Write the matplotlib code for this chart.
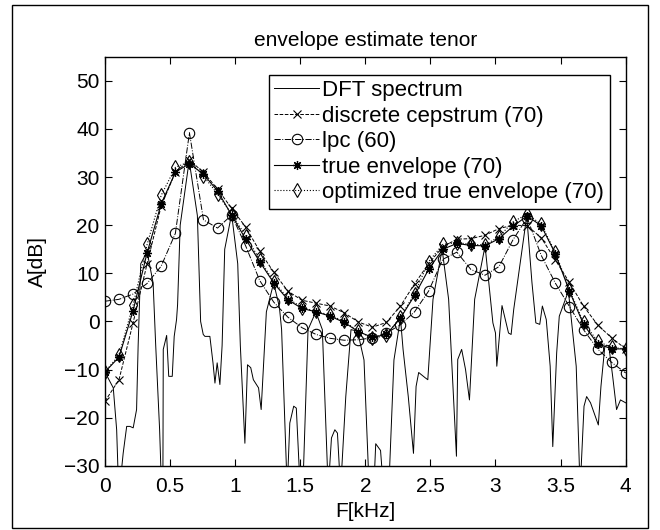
import matplotlib
matplotlib.use('Agg')
import matplotlib.pyplot as plt
from matplotlib.patches import Rectangle

plt.rcParams['font.family'] = ['Liberation Sans', 'DejaVu Sans']
plt.rcParams['font.size'] = 15

# DFT spectrum vertices (kHz, dB)
dft_freq = [0.0, 0.064, 0.09, 0.105, 0.123, 0.14, 0.167, 0.192, 0.217, 0.243,
            0.255, 0.275, 0.324, 0.37, 0.39, 0.42, 0.435, 0.445, 0.448, 0.474,
            0.49, 0.517, 0.532, 0.55, 0.558, 0.578, 0.647, 0.71, 0.735, 0.755,
            0.768, 0.806, 0.83, 0.845, 0.862, 0.883, 0.90, 0.92, 0.973, 1.02,
            1.04, 1.075, 1.095, 1.12, 1.14, 1.18, 1.2, 1.24, 1.296, 1.34,
            1.357, 1.40, 1.42, 1.45, 1.47, 1.50, 1.52, 1.56, 1.62, 1.67,
            1.715, 1.74, 1.766, 1.786, 1.81, 1.85, 1.89, 1.94, 1.99, 2.03,
            2.065, 2.08, 2.117, 2.14, 2.18, 2.22, 2.27, 2.29, 2.33, 2.37,
            2.39, 2.41, 2.46, 2.48, 2.52, 2.59, 2.64, 2.70, 2.71, 2.74,
            2.77, 2.80, 2.84, 2.92, 2.98, 3.0, 3.01, 3.03, 3.05, 3.10,
            3.12, 3.14, 3.24, 3.28, 3.31, 3.34, 3.36, 3.39, 3.42, 3.44,
            3.47, 3.49, 3.56, 3.62, 3.65, 3.68, 3.70, 3.73, 3.79, 3.81,
            3.84, 3.87, 3.90, 3.93, 3.96, 4.0]
dft_db = [-10.5, -13.8, -22.5, -35, -32, -27.4, -21.8, -21.8, -22.1, -18.3,
          -5, 12, 14.5, 8, -5, -22.5, -35, -35, -5.8, -2.9,
          -11.4, -11.4, -3.1, 0.4, 3.5, 20, 33.4, 22, 0, -2.7,
          -3.1, -3.1, -8.6, -12.8, -8.6, -13.1, -5, 15, 22.3, 12,
          -5, -25.3, -9.0, -9.6, -12.1, -13.8, -18.3, 2, 8.0, 3,
          -1.7, -35, -21.1, -17.6, -18, -35, -35, -1.7, 2.0, -1.7,
          -35, -24.2, -22.5, -23.2, -35, -15.6, -1.7, -2.0, -8, -35,
          -35, -25.4, -26.8, -35, -35, -8, 0.7, -5.8, -15.6, -27.4,
          -13.5, -10.6, -11.7, -12.1, 4.6, 15.0, 4.6, -28, -7.9, -5.8,
          -10, -16.3, 4.6, 15.7, -0.3, -2.4, -9.3, -3.1, 3.3, -2.4,
          -2.7, 2.5, 21.9, 8.1, -0.3, -0.6, 3.2, 0.4, -9.3, -26,
          -6.5, 1.1, 6.3, -9.3, -35, -17.6, -15.6, -16.9, -21.5, -13.5,
          -5.1, -5, -11.4, -18.3, -16.3, -16.9]

# envelope sample frequencies (kHz)
env_freq = [0.0, 0.108, 0.216, 0.324, 0.432, 0.541, 0.649, 0.757, 0.865, 0.973,
            1.081, 1.189, 1.297, 1.405, 1.514, 1.622, 1.730, 1.838, 1.946, 2.054,
            2.162, 2.270, 2.378, 2.486, 2.595, 2.703, 2.811, 2.919, 3.027, 3.135,
            3.243, 3.351, 3.459, 3.568, 3.676, 3.784, 3.892, 4.0]

cepstrum = [-16.6, -12.1, -0.3, 12.0, 24.0, 31.0, 33.5, 31.0, 27.5, 23.5,
            19.6, 14.6, 10.2, 6.3, 4.4, 3.8, 3.2, 1.8, -0.1, -1.2,
            -0.2, 3.2, 7.8, 12.0, 15.5, 17.1, 17.2, 17.9, 19.3, 20.0,
            19.9, 17.4, 12.8, 8.1, 3.2, -0.7, -3.4, -5.7]

lpc = [4.2, 4.6, 5.7, 7.9, 11.5, 18.3, 39.2, 21.1, 19.4, 22.1,
       15.7, 8.5, 4.0, 0.9, -1.3, -2.7, -3.5, -3.9, -3.8, -3.4,
       -2.4, -0.7, 2.0, 6.3, 12.9, 14.4, 10.8, 9.6, 11.4, 17.0,
       21.5, 13.75, 8.0, 3.1, -1.7, -5.7, -8.5, -10.7]

true_env = [-10.5, -7.4, 2.2, 14.3, 24.4, 31.0, 32.8, 30.6, 27.1, 22.1,
            17.1, 12.4, 8.0, 4.5, 2.7, 2.0, 1.1, -0.2, -2.1, -3.3,
            -2.7, 0.7, 5.4, 10.8, 15.0, 16.2, 15.8, 15.7, 17.2, 19.8,
            21.9, 19.9, 14.1, 6.3, -0.6, -4.6, -5.7, -5.7]

opt_env = [-10.5, -7.0, 3.4, 16.0, 26.2, 32.0, 33.2, 30.2, 26.5, 22.3,
           17.8, 12.8, 8.3, 4.8, 2.9, 2.1, 1.3, 0.0, -2.0, -3.5,
           -2.9, 0.9, 5.8, 12.4, 16.0, 16.4, 16.0, 15.9, 17.6, 20.7,
           22.3, 20.2, 14.4, 6.6, -0.2, -4.1, -5.4, -5.7]

xticks = [0, 0.5, 1, 1.5, 2, 2.5, 3, 3.5, 4]
xticklabels = ['0', '0.5', '1', '1.5', '2', '2.5', '3', '3.5', '4']
yticks = [-30, -20, -10, 0, 10, 20, 30, 40, 50]

fig = plt.figure(figsize=(6.6, 5.3), dpi=100)
ax = fig.add_axes([0.159, 0.121, 0.789, 0.772])

ms = 6.5
asterisk = (8, 2, 0)  # matlab style '*'
ax.plot(dft_freq, dft_db, '-', color='k', lw=0.7, label='DFT spectrum')
ax.plot(env_freq, cepstrum, '--', color='k', lw=0.7, marker='x', ms=ms - 0.5,
        mew=0.8, label='discrete cepstrum (70)')
ax.plot(env_freq, lpc, '-.', color='k', lw=0.7, marker='o', ms=ms + 1,
        mfc='none', mew=0.8, label='lpc (60)')
ax.plot(env_freq, true_env, '-', color='k', lw=0.8, marker=asterisk, ms=ms,
        mew=0.9, label='true envelope (70)')
ax.plot(env_freq, opt_env, ':', color='k', lw=0.8, marker='d', ms=ms + 1,
        mfc='none', mew=0.8, label='optimized true envelope (70)')

ax.set_xlim(0, 4)
ax.set_ylim(-30, 55)
ax.set_xticks(xticks)
ax.set_xticklabels(xticklabels)
ax.set_yticks(yticks)
ax.tick_params(direction='in', top=True, right=True, length=5, width=0.8,
               labelsize=15)
ax.tick_params(axis='x', pad=8)
ax.tick_params(axis='y', pad=4)
for s in ax.spines.values():
    s.set_linewidth(1.0)

ax.set_title('envelope estimate tenor', fontsize=15, pad=8)
ax.set_xlabel('F[kHz]', fontsize=15, labelpad=4)
ax.set_ylabel('A[dB]', fontsize=15, labelpad=12)

leg = ax.legend(loc='upper right', bbox_to_anchor=(0.969, 0.956),
                borderaxespad=0, fancybox=False, framealpha=1,
                handlelength=2.0, handletextpad=0.15, labelspacing=0.2,
                borderpad=0.25, fontsize=16)
leg.get_frame().set_edgecolor('k')
leg.get_frame().set_linewidth(1.0)

# outer frame around the figure
fig.patches.append(Rectangle((0.018, 0.004), 0.964, 0.987, transform=fig.transFigure,
                             fill=False, edgecolor='k', lw=1.0))

fig.savefig('out.png', dpi=100)
